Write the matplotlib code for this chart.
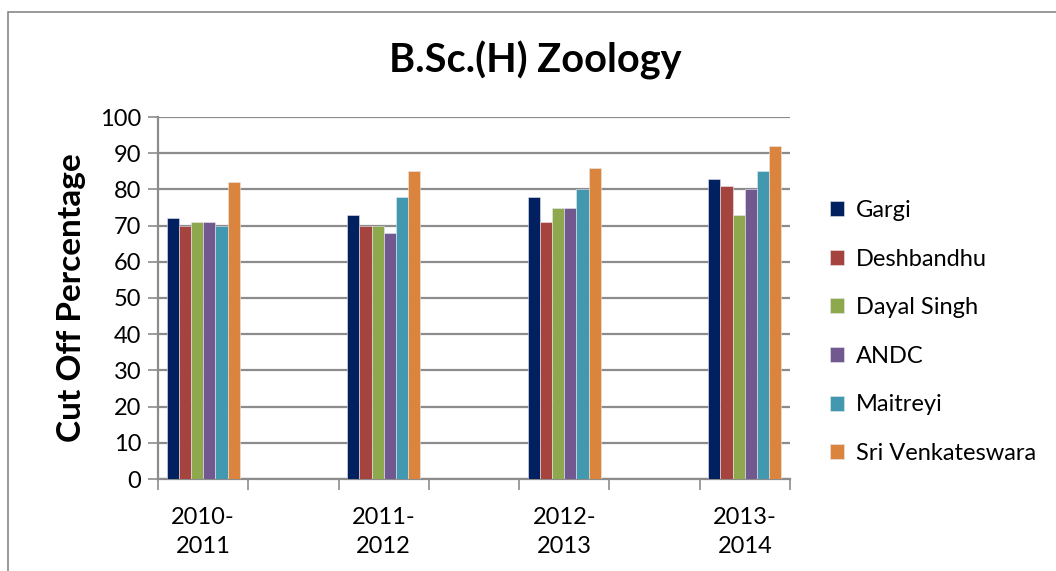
import matplotlib
matplotlib.use("Agg")
import matplotlib.pyplot as plt
from matplotlib.patches import Rectangle
import numpy as np

plt.rcParams['font.family'] = ['Lato', 'DejaVu Sans']

categories = ["2010-\n2011", "", "2011-\n2012", "", "2012-\n2013", "", "2013-\n2014"]
series_names = ["Gargi", "Deshbandhu", "Dayal Singh", "ANDC", "Maitreyi", "Sri Venkateswara"]
gargi = [72, None, 73, None, 78, None, 83]
deshbandhu = [70, None, 70, None, 71, None, 81]
dayal_singh = [71, None, 70, None, 75, None, 73]
andc = [71, None, 68, None, 75, None, 80]
maitreyi = [70, None, 78, None, 80, None, 85]
sri_venkateswara = [82, None, 85, None, 86, None, 92]
colors = ["#002060", "#A5433F", "#8EA84E", "#71588F", "#4198AF", "#DB843D"]
yticks = [0, 10, 20, 30, 40, 50, 60, 70, 80, 90, 100]

all_series = [gargi, deshbandhu, dayal_singh, andc, maitreyi, sri_venkateswara]

W, H = 1056, 571
fig = plt.figure(figsize=(W / 100, H / 100), dpi=100)
fig.patches.append(Rectangle((8 / W, -0.1), 1.2, (H - 12) / H + 0.1, transform=fig.transFigure,
                             fill=False, edgecolor="#888888", linewidth=1.2))

ax = fig.add_axes([158 / W, 1 - 479 / H, (790 - 158) / W, (479 - 117) / H])

n = len(all_series)
bw = 0.135
x = np.arange(len(categories))
for i, (name, vals, c) in enumerate(zip(series_names, all_series, colors)):
    xs = [xi for xi, v in zip(x, vals) if v is not None]
    vs = [v for v in vals if v is not None]
    offs = (i - (n - 1) / 2) * bw
    ax.bar(np.array(xs) + offs, vs, width=bw, color=c, label=name,
           edgecolor="#e8e8f0", linewidth=0.4, zorder=3)

ax.set_xlim(-0.5, len(categories) - 0.5)
ax.set_ylim(0, 100)
ax.set_yticks(yticks)
ax.set_yticklabels([str(t) for t in yticks], fontsize=17)
ax.yaxis.grid(True, color="#8c8c8c", linewidth=1.6, zorder=0)
ax.set_axisbelow(True)

ax.set_xticks(x[::2])
ax.set_xticklabels(categories[::2], fontsize=17, linespacing=1.5)
ax.set_xticks(np.arange(-0.5, len(categories), 1.0), minor=True)
ax.tick_params(axis='x', which='major', length=0, pad=20)
ax.tick_params(axis='x', which='minor', length=8, width=1.2, color="#8c8c8c")
ax.tick_params(axis='y', length=7, width=1.2, color="#8c8c8c", pad=5)

for s in ["top", "right"]:
    ax.spines[s].set_visible(False)
for s in ["left", "bottom"]:
    ax.spines[s].set_color("#8c8c8c")
    ax.spines[s].set_linewidth(1.6)

ax.set_ylabel("Cut Off Percentage", fontsize=24, fontweight="bold", labelpad=10)
fig.text(535 / W, 1 - 60 / H, "B.Sc.(H) Zoology", fontsize=28.5, fontweight="bold",
         ha="center", va="center")

leg = ax.legend(loc="center left", bbox_to_anchor=(1.03, 0.406), frameon=False,
                fontsize=17, handlelength=0.6, handleheight=0.6, handletextpad=0.5,
                labelspacing=1.17)

fig.savefig("out.png", dpi=100)
